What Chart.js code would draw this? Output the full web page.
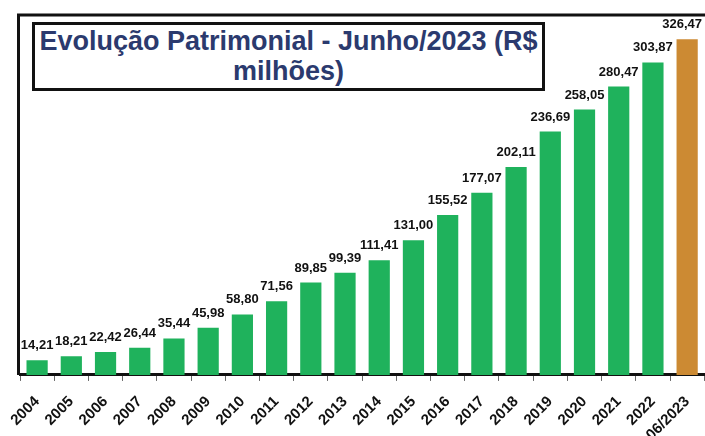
<!DOCTYPE html>
<html lang="pt-BR">
<head>
  <meta charset="UTF-8">
  <title>Evolução Patrimonial</title>
  <script src="https://cdn.jsdelivr.net/npm/chart.js"></script>
  <style>
    html, body {
      margin: 0;
      padding: 0;
      background: #fff;
      overflow: hidden;
      font-family: "Liberation Sans", Arial, sans-serif;
    }
    .wrap {
      position: relative;
      width: 712px;
      height: 456px;
    }
    .title-box {
      position: absolute;
      left: 32px;
      top: 22px;
      width: 507px;
      height: 62px;
      border: 3px solid #111;
      background: #fff;
      color: #2b3a6e;
      font-weight: bold;
      font-size: 27px;
      line-height: 30px;
      text-align: center;
      padding-top: 1px;
      box-sizing: content-box;
      white-space: nowrap;
    }
  </style>
</head>
<body>
  <div class="wrap">
    <canvas id="patrimonio" width="712" height="456"></canvas>
    <div class="title-box">Evolução Patrimonial - Junho/2023 (R$<br>milhões)</div>
  </div>

  <script>
    const categories = ['2004', '2005', '2006', '2007', '2008', '2009', '2010', '2011', '2012', '2013',
      '2014', '2015', '2016', '2017', '2018', '2019', '2020', '2021', '2022', '06/2023'];
    const patrimonio = [14.21, 18.21, 22.42, 26.44, 35.44, 45.98, 58.80, 71.56, 89.85, 99.39,
      111.41, 131.00, 155.52, 177.07, 202.11, 236.69, 258.05, 280.47, 303.87, 326.47];

    const green = '#1fb25c';
    const orange = '#cc8a33';

    // frame lines (top + left) like the original picture
    const framePlugin = {
      id: 'frame',
      afterDraw(chart) {
        const { ctx, chartArea } = chart;
        ctx.save();
        ctx.strokeStyle = '#111';
        ctx.lineWidth = 3;
        ctx.beginPath();
        ctx.moveTo(chartArea.left - 1.5, chartArea.bottom);
        ctx.lineTo(chartArea.left - 1.5, chartArea.top);
        ctx.lineTo(chart.width, chartArea.top);
        ctx.stroke();
        ctx.restore();
      }
    };

    // value labels above each bar (kept inside the 705px window)
    const valueLabels = {
      id: 'valueLabels',
      afterDatasetsDraw(chart) {
        const { ctx } = chart;
        const meta = chart.getDatasetMeta(0);
        ctx.save();
        ctx.font = 'bold 13px "Liberation Sans", Arial, sans-serif';
        ctx.fillStyle = '#111';
        ctx.textAlign = 'center';
        ctx.textBaseline = 'alphabetic';
        meta.data.forEach((bar, i) => {
          const txt = patrimonio[i].toFixed(2).replace('.', ',');
          const w = ctx.measureText(txt).width;
          const x = Math.min(bar.x, 702 - w / 2);
          ctx.fillText(txt, x, bar.y - 11);
        });
        ctx.restore();
      }
    };

    new Chart(document.getElementById('patrimonio'), {
      type: 'bar',
      data: {
        labels: categories,
        datasets: [{
          data: patrimonio,
          backgroundColor: patrimonio.map((_, i) => i === patrimonio.length - 1 ? orange : green),
          categoryPercentage: 1,
          barPercentage: 0.62
        }]
      },
      options: {
        responsive: false,
        animation: false,
        layout: { padding: { left: 20, top: 15, right: 5, bottom: 0 } },
        plugins: {
          legend: { display: false },
          tooltip: { enabled: false }
        },
        scales: {
          x: {
            border: { display: true, color: '#111', width: 3 },
            grid: { display: true, drawOnChartArea: false, drawTicks: true, tickLength: 6, color: '#666', offset: true },
            ticks: {
              color: '#111',
              font: { family: '"Liberation Sans", Arial, sans-serif', size: 15, weight: 'bold' },
              minRotation: 45,
              maxRotation: 45,
              autoSkip: false,
              padding: 12
            }
          },
          y: {
            display: false,
            min: 0,
            max: 350
          }
        }
      },
      plugins: [framePlugin, valueLabels]
    });
  </script>
</body>
</html>
